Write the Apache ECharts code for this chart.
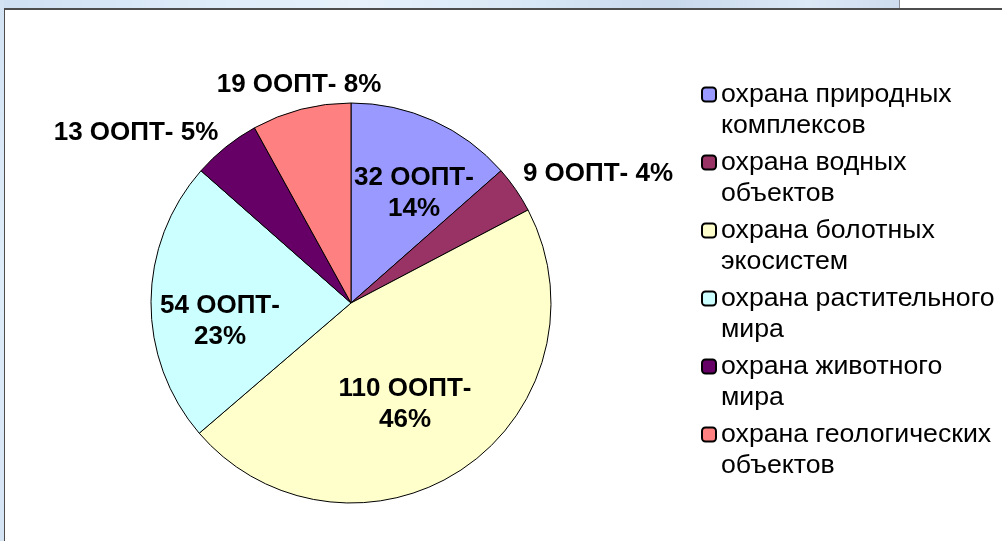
<!DOCTYPE html>
<html>
<head>
<meta charset="utf-8">
<script src="https://cdn.jsdelivr.net/npm/echarts@6/dist/echarts.min.js"></script>
<style>
  html, body { margin: 0; padding: 0; background: #fff; }
  .stripTop { position: absolute; left: 0; top: 0; width: 899px; height: 8px;
    background: linear-gradient(90deg, #cfe0f3 0%, #dceaf8 20%, #e6f1fb 40%, #d7e6f6 60%, #c9d9ec 75%, #dbe8f6 90%, #cddcee 100%);
    border-right: 1px solid #8a8f96; }
  .stripLeft { position: absolute; left: 0; top: 0; width: 4px; height: 541px;
    background: linear-gradient(180deg, #d3e3f4 0%, #dfecf9 50%, #d5e4f5 100%); }
  .frame { position: absolute; left: 4px; top: 8px; right: 0; bottom: 0;
    border-left: 1px solid #4d4d4d; border-top: 2px solid #4d4d4d; background: #fff; }
  #main { position: absolute; left: 0; top: 0; width: 1002px; height: 541px; }
</style>
</head>
<body>
<div class="stripTop"></div>
<div class="stripLeft"></div>
<div class="frame"></div>
<div id="main"></div>
<script>
  // категории и значения (число ООПТ)
  var categories = [
    'охрана природных\nкомплексов',
    'охрана водных\nобъектов',
    'охрана болотных\nэкосистем',
    'охрана растительного\nмира',
    'охрана животного\nмира',
    'охрана геологических\nобъектов'
  ];
  var counts = [32, 9, 110, 54, 13, 19];
  var colors = ['#9999FF', '#993366', '#FFFFCC', '#CCFFFF', '#660066', '#FF8080'];

  // где стоят подписи (как их расставили вручную в исходной диаграмме)
  var labelSpots = [
    { x: 414, y: 193, wrap: true },
    { x: 598, y: 174, wrap: false },
    { x: 405, y: 404, wrap: true },
    { x: 220, y: 321, wrap: true },
    { x: 136, y: 133, wrap: false },
    { x: 299, y: 85, wrap: false }
  ];

  var chartDom = document.getElementById('main');
  var myChart = echarts.init(chartDom, null, { renderer: 'canvas' });

  var seriesData = categories.map(function (name, i) {
    return { name: name, value: counts[i], itemStyle: { color: colors[i] } };
  });

  var option = {
    animation: false,
    backgroundColor: 'transparent',
    legend: {
      orient: 'vertical',
      left: 701,
      top: 48,
      padding: 0,
      itemWidth: 14,
      itemHeight: 14,
      itemGap: -25,
      selectedMode: false,
      data: categories,
      // пустая первая строка, чтобы квадратик стоял против первой строки текста
      formatter: function (name) { return '\n' + name; },
      textStyle: {
        fontFamily: 'Liberation Sans, Arial, sans-serif',
        fontSize: 26.7,
        lineHeight: 31,
        color: '#000'
      }
    },
    series: [
      {
        type: 'pie',
        center: [351, 303],
        radius: 200,
        startAngle: 90,
        clockwise: true,
        avoidLabelOverlap: false,
        emphasis: { disabled: true },
        itemStyle: { borderColor: '#000', borderWidth: 1 },
        label: {
          show: true,
          position: 'inside',
          fontFamily: 'Liberation Sans, Arial, sans-serif',
          fontSize: 26,
          fontWeight: 'bold',
          lineHeight: 31,
          color: '#000',
          formatter: function (p) {
            var pct = Math.round(p.percent);
            var sep = labelSpots[p.dataIndex].wrap ? '\n' : ' ';
            return p.value + ' ООПТ-' + sep + pct + '%';
          }
        },
        labelLine: { show: false },
        labelLayout: function (params) {
          var s = labelSpots[params.dataIndex];
          return { x: s.x, y: s.y, align: 'center', verticalAlign: 'middle' };
        },
        data: seriesData
      }
    ]
  };

  option && myChart.setOption(option);
</script>
</body>
</html>
